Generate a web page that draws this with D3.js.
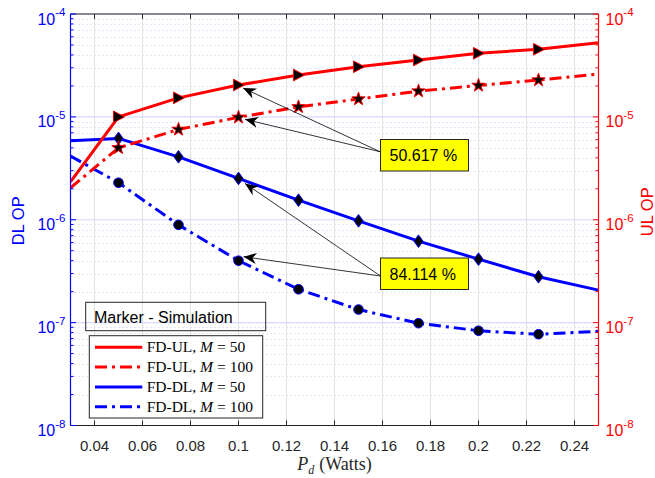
<!DOCTYPE html>
<html>
<head>
<meta charset="utf-8">
<script src="https://cdn.jsdelivr.net/npm/d3@7"></script>
<style>
  html, body { margin: 0; padding: 0; background: #fff; }
  svg { display: block; }
</style>
</head>
<body>
<svg id="chart" width="655" height="478"></svg>
<script>
// Transmit power P_d (W) for the analytical curves
const pdLine = [0.03, 0.05, 0.075, 0.1, 0.125, 0.15, 0.175, 0.2, 0.225, 0.25];
// Transmit power for the simulation points
const pdSim = [0.05, 0.075, 0.1, 0.125, 0.15, 0.175, 0.2, 0.225];

// Outage probability, analysis
const ulM50  = [2.34e-6, 1.0e-5, 1.53e-5, 2.04e-5, 2.55e-5, 3.07e-5, 3.57e-5, 4.15e-5, 4.54e-5, 5.25e-5];
const ulM100 = [2.04e-6, 5.0e-6, 7.55e-6, 9.9e-6, 1.25e-5, 1.49e-5, 1.78e-5, 2.02e-5, 2.28e-5, 2.61e-5];
const dlM50  = [5.86e-6, 6.18e-6, 4.09e-6, 2.52e-6, 1.55e-6, 9.76e-7, 6.19e-7, 4.14e-7, 2.79e-7, 2.07e-7];
const dlM100 = [4.16e-6, 2.29e-6, 8.92e-7, 4.0e-7, 2.11e-7, 1.34e-7, 9.87e-8, 8.34e-8, 7.71e-8, 8.24e-8];

// Outage probability, simulation
const ulM50Sim  = [1.0e-5, 1.53e-5, 2.04e-5, 2.55e-5, 3.07e-5, 3.57e-5, 4.15e-5, 4.54e-5];
const ulM100Sim = [5.0e-6, 7.55e-6, 9.9e-6, 1.25e-5, 1.49e-5, 1.78e-5, 2.02e-5, 2.28e-5];
const dlM50Sim  = [6.18e-6, 4.09e-6, 2.52e-6, 1.55e-6, 9.76e-7, 6.19e-7, 4.14e-7, 2.79e-7];
const dlM100Sim = [2.29e-6, 8.92e-7, 4.0e-7, 2.11e-7, 1.34e-7, 9.87e-8, 8.34e-8, 7.71e-8];

// Axis ticks
const xTicks = [0.04, 0.06, 0.08, 0.1, 0.12, 0.14, 0.16, 0.18, 0.2, 0.22, 0.24];
const yExponents = [-8, -7, -6, -5, -4];

// Legend entries and gain labels
const legendLabels = [["FD-UL", "50"], ["FD-UL", "100"], ["FD-DL", "50"], ["FD-DL", "100"]];
const gainLabels = ["50.617 %", "84.114 %"];

const RED = "#ff0000", BLUE = "#0000ff", AXIS = "#262626";
const SANS = "'Liberation Sans', Arial, Helvetica, sans-serif";
const SERIF = "'Liberation Serif', 'Times New Roman', serif";

const svg = d3.select("#chart");
const L = 70.5, R = 598.5, T = 14, B = 425.5;

const x = d3.scaleLinear().domain([0.03, 0.25]).range([L, R]);
const yL = d3.scaleLog().domain([1e-8, 1e-4]).range([B, T]);
const yR = d3.scaleLog().domain([1e-8, 1e-4]).range([B, T]);

svg.append("rect").attr("width", 655).attr("height", 478).attr("fill", "#fff");

svg.append("defs").append("clipPath").attr("id", "plotClip")
  .append("rect").attr("x", L).attr("y", T).attr("width", R - L).attr("height", B - T);

// ---- grid ----
const grid = svg.append("g");
const minorVals = [];
for (let e = -8; e < -4; e++) for (let k = 2; k <= 9; k++) minorVals.push(k * Math.pow(10, e));
grid.selectAll("line.minor").data(minorVals).join("line")
  .attr("x1", L).attr("x2", R)
  .attr("y1", d => Math.round(yL(d)) + 0.5).attr("y2", d => Math.round(yL(d)) + 0.5)
  .attr("stroke", "#c2c2f2").attr("stroke-width", 0.8).attr("stroke-dasharray", "1,3");
grid.selectAll("line.vmaj").data(xTicks).join("line")
  .attr("x1", d => x(d)).attr("x2", d => x(d)).attr("y1", T).attr("y2", B)
  .attr("stroke", "#e0e0e0").attr("stroke-width", 1);
grid.selectAll("line.hmaj").data(yExponents).join("line")
  .attr("x1", L).attr("x2", R)
  .attr("y1", d => yL(Math.pow(10, d))).attr("y2", d => yL(Math.pow(10, d)))
  .attr("stroke", "#d8d8fb").attr("stroke-width", 1.2);

// ---- curves ----
const plot = svg.append("g").attr("clip-path", "url(#plotClip)");
const DASHDOT = "12,5,3,5";
function curve(vals, scale, color, dash) {
  const line = d3.line().x((d, i) => x(pdLine[i])).y(d => scale(d));
  plot.append("path").datum(vals).attr("d", line)
    .attr("fill", "none").attr("stroke", color).attr("stroke-width", 3)
    .attr("stroke-linejoin", "round")
    .attr("stroke-dasharray", dash || null);
}
curve(dlM50, yL, BLUE);
curve(dlM100, yL, BLUE, DASHDOT);
curve(ulM50, yR, RED);
curve(ulM100, yR, RED, DASHDOT);

// ---- markers ----
function starPath(ro, ri) {
  const pts = [];
  for (let i = 0; i < 10; i++) {
    const r = i % 2 === 0 ? ro : ri;
    const a = -Math.PI / 2 + i * Math.PI / 5;
    pts.push([r * Math.cos(a), r * Math.sin(a)]);
  }
  return "M" + pts.map(p => p.join(",")).join("L") + "Z";
}
const shapes = {
  tri: "M6,0L-5,-5.8L-5,5.8Z",
  star: starPath(7, 2.8),
  diamond: "M0,-6.3L4.6,0L0,6.3L-4.6,0Z",
  circle: d3.symbol(d3.symbolCircle, Math.PI * 4.8 * 4.8)()
};
function markers(vals, scale, shape, edge) {
  svg.append("g").selectAll("path").data(vals).join("path")
    .attr("transform", (d, i) => `translate(${x(pdSim[i])},${scale(d)})`)
    .attr("d", shapes[shape]).attr("fill", "#000")
    .attr("stroke", edge).attr("stroke-width", 1);
}
markers(dlM50Sim, yL, "diamond", BLUE);
markers(dlM100Sim, yL, "circle", BLUE);
markers(ulM50Sim, yR, "tri", RED);
markers(ulM100Sim, yR, "star", RED);

// ---- axes ----
const ax = svg.append("g");
// top and bottom
ax.append("line").attr("x1", L).attr("x2", R).attr("y1", T).attr("y2", T).attr("stroke", AXIS);
ax.append("line").attr("x1", L).attr("x2", R).attr("y1", B).attr("y2", B).attr("stroke", AXIS);
ax.selectAll("line.xt").data(xTicks).join("line")
  .attr("x1", d => x(d)).attr("x2", d => x(d)).attr("y1", B).attr("y2", B - 5).attr("stroke", AXIS);
ax.selectAll("line.xtt").data(xTicks).join("line")
  .attr("x1", d => x(d)).attr("x2", d => x(d)).attr("y1", T).attr("y2", T + 5).attr("stroke", AXIS);
ax.selectAll("text.xl").data(xTicks).join("text")
  .attr("x", d => x(d)).attr("y", 451).attr("text-anchor", "middle")
  .attr("font-family", SANS).attr("font-size", 15).attr("fill", AXIS)
  .text(d => d3.format("")(d));

// left (DL) and right (UL) axes
function yAxis(scale, xPos, dir, color) {
  const g = svg.append("g");
  g.append("line").attr("x1", xPos).attr("x2", xPos).attr("y1", T).attr("y2", B)
    .attr("stroke", color).attr("stroke-width", 1.2);
  g.selectAll("line.mi").data(minorVals).join("line")
    .attr("x1", xPos).attr("x2", xPos + dir * 3)
    .attr("y1", d => scale(d)).attr("y2", d => scale(d)).attr("stroke", color);
  g.selectAll("line.ma").data(yExponents).join("line")
    .attr("x1", xPos).attr("x2", xPos + dir * 5.5)
    .attr("y1", d => scale(Math.pow(10, d))).attr("y2", d => scale(Math.pow(10, d)))
    .attr("stroke", color);
  const lab = g.selectAll("text").data(yExponents).join("text")
    .attr("x", dir > 0 ? xPos - 5 : xPos + 7)
    .attr("y", d => scale(Math.pow(10, d)) + 10.5)
    .attr("text-anchor", dir > 0 ? "end" : "start")
    .attr("font-family", SANS).attr("font-size", 16).attr("fill", color);
  lab.append("tspan").text("10");
  lab.append("tspan").attr("dy", -8.5).attr("font-size", 11.5).text(d => String(d));
}
yAxis(yL, L, 1, BLUE);
yAxis(yR, R, -1, RED);

svg.append("text").attr("transform", `translate(24,${(T + B) / 2 + 1}) rotate(-90)`)
  .attr("text-anchor", "middle").attr("font-family", SANS).attr("font-size", 16.5)
  .attr("fill", BLUE).text("DL OP");
svg.append("text").attr("transform", `translate(653,${(T + B) / 2 - 8}) rotate(-90)`)
  .attr("text-anchor", "middle").attr("font-family", SANS).attr("font-size", 16.5)
  .attr("fill", RED).text("UL OP");

// x-axis title: P_d (Watts)
const xt = svg.append("text").attr("x", (L + R) / 2).attr("y", 470)
  .attr("text-anchor", "middle").attr("font-family", SERIF).attr("font-size", 18).attr("fill", AXIS);
xt.append("tspan").attr("font-style", "italic").text("P");
xt.append("tspan").attr("font-style", "italic").attr("font-size", 12).attr("dy", 4).text("d");
xt.append("tspan").attr("dy", -4).attr("dx", 5).text("(Watts)");

// ---- legend ----
svg.append("rect").attr("x", 85.7).attr("y", 302.3).attr("width", 180).attr("height", 28.4)
  .attr("fill", "none").attr("stroke", AXIS).attr("stroke-width", 1);
svg.append("text").attr("x", 94).attr("y", 323).attr("font-family", SANS)
  .attr("font-size", 16).attr("fill", "#000").text("Marker - Simulation");

const leg = svg.append("g");
leg.append("rect").attr("x", 89.3).attr("y", 335.7).attr("width", 173.4).attr("height", 82.3)
  .attr("fill", "#fff").attr("stroke", AXIS).attr("stroke-width", 1);
const legStyles = [[RED, null], [RED, DASHDOT], [BLUE, null], [BLUE, DASHDOT]];
legendLabels.forEach((lbl, i) => {
  const yy = 347.3 + i * 19.8;
  leg.append("line").attr("x1", 95).attr("x2", 142.3).attr("y1", yy).attr("y2", yy)
    .attr("stroke", legStyles[i][0]).attr("stroke-width", 3)
    .attr("stroke-dasharray", legStyles[i][1]);
  const t = leg.append("text").attr("x", 146.7).attr("y", yy + 5)
    .attr("font-family", SERIF).attr("font-size", 15.5).attr("fill", "#000");
  t.append("tspan").text(lbl[0] + ", ");
  t.append("tspan").attr("font-style", "italic").text("M");
  t.append("tspan").attr("dx", 4).text("=");
  t.append("tspan").attr("dx", 4).text(lbl[1]);
});

// ---- gain annotations ----
function arrow(x0, y0, tx, ty) {
  const g = svg.append("g");
  g.append("line").attr("x1", x0).attr("y1", y0).attr("x2", tx).attr("y2", ty)
    .attr("stroke", "#000").attr("stroke-width", 0.8);
  const ang = Math.atan2(ty - y0, tx - x0) * 180 / Math.PI;
  g.append("path").attr("d", "M0,0L-13,-5.5L-9,0L-13,5.5Z")
    .attr("transform", `translate(${tx},${ty}) rotate(${ang})`).attr("fill", "#000");
}
function gainBox(bx, by, label) {
  svg.append("rect").attr("x", bx).attr("y", by).attr("width", 88).attr("height", 31.5)
    .attr("fill", "#ffff00").attr("stroke", AXIS).attr("stroke-width", 1);
  svg.append("text").attr("x", bx + 9).attr("y", by + 21.5).attr("font-family", SANS)
    .attr("font-size", 16).attr("fill", "#000").text(label);
}
// arrows end just beside the marker they point to
arrow(380, 151.7, x(0.1) + 4.5, yR(ulM50Sim[2]) + 3);
arrow(380, 151.7, x(0.1) + 6.5, yR(ulM100Sim[2]) + 2);
gainBox(380.5, 139.5, gainLabels[0]);

arrow(380.5, 276, x(0.1) + 6.5, yL(dlM50Sim[2]) + 5);
arrow(380.5, 276, x(0.1) + 5, yL(dlM100Sim[2]) - 4);
gainBox(380.5, 258, gainLabels[1]);
</script>
</body>
</html>
